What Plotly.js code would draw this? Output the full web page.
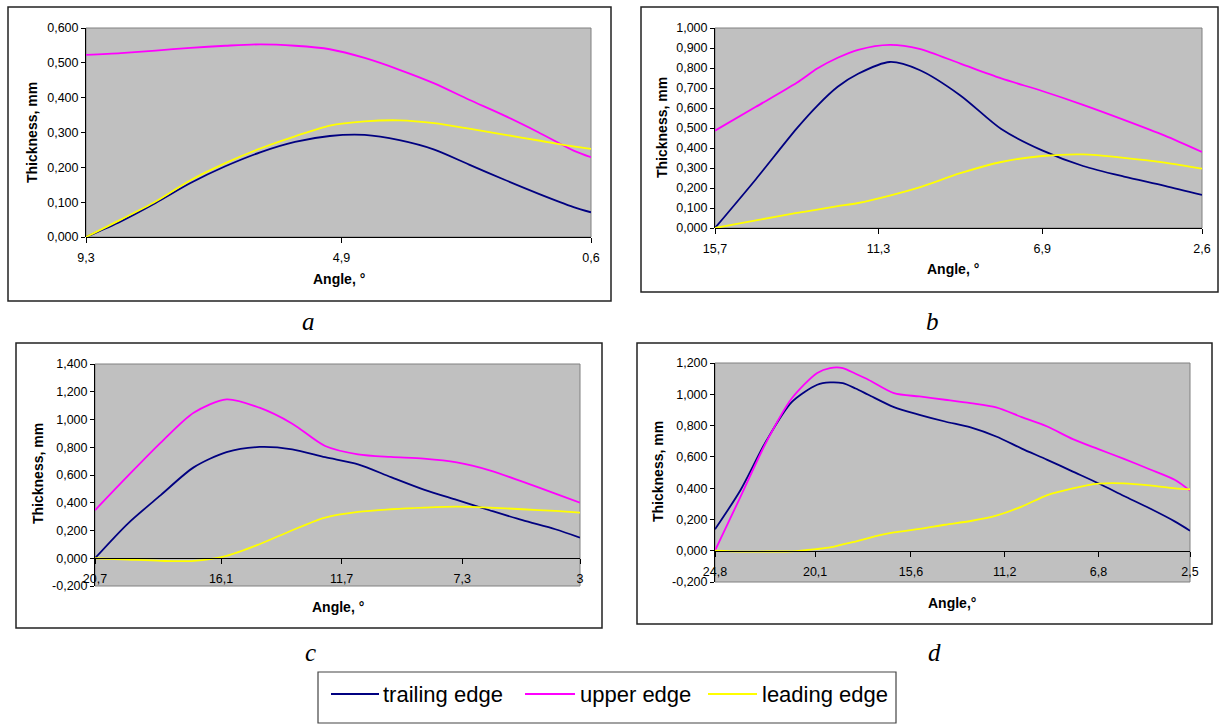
<!DOCTYPE html>
<html>
<head>
<meta charset="utf-8">
<script src="https://cdn.plot.ly/plotly-3.0.1.min.js"></script>
<style>
  html, body { margin: 0; padding: 0; background: #ffffff; }
  #chart { width: 1225px; height: 724px; }
</style>
</head>
<body>
<div id="chart"></div>
<script>
// ---------------- DATA ----------------
const seriesNames  = ['trailing edge', 'upper edge', 'leading edge'];
const seriesColors = ['#000080', '#ff00ff', '#ffff00'];

// Panel a
const angleA    = [9.3, 8.7, 8.1, 7.5, 6.9, 6.3, 5.7, 5.1, 4.5, 3.9, 3.3, 2.7, 2.1, 1.5, 0.9, 0.6];
const trailingA = [0, 0.045, 0.098, 0.155, 0.203, 0.243, 0.273, 0.290, 0.293, 0.278, 0.251, 0.208, 0.165, 0.124, 0.086, 0.071];
const upperA    = [0.523, 0.528, 0.535, 0.543, 0.549, 0.553, 0.549, 0.539, 0.514, 0.480, 0.441, 0.394, 0.349, 0.300, 0.248, 0.229];
const leadingA  = [0, 0.050, 0.102, 0.163, 0.212, 0.254, 0.289, 0.320, 0.332, 0.335, 0.327, 0.311, 0.294, 0.277, 0.260, 0.253];
const xTicksA   = [9.3, 4.9, 0.6];
const yTicksA   = [0, 0.1, 0.2, 0.3, 0.4, 0.5, 0.6];

// Panel b
const angleB    = [15.7, 14.6, 13.5, 12.95, 12.4, 11.85, 11.0, 10.2, 9.1, 8.0, 6.9, 5.8, 4.7, 3.6, 2.6];
const trailingB = [0, 0.244, 0.498, 0.611, 0.706, 0.771, 0.830, 0.790, 0.663, 0.495, 0.388, 0.310, 0.257, 0.211, 0.165];
const upperB    = [0.487, 0.606, 0.726, 0.797, 0.851, 0.891, 0.916, 0.896, 0.822, 0.748, 0.685, 0.616, 0.541, 0.462, 0.380];
const leadingB  = [0, 0.038, 0.076, 0.092, 0.109, 0.125, 0.162, 0.203, 0.274, 0.330, 0.360, 0.368, 0.351, 0.327, 0.297];
const xTicksB   = [15.7, 11.3, 6.9, 2.6];
const yTicksB   = [0, 0.1, 0.2, 0.3, 0.4, 0.5, 0.6, 0.7, 0.8, 0.9, 1.0];

// Panel c
const angleC    = [20.7, 19.5, 18.3, 17.1, 15.9, 14.7, 13.5, 12.3, 11.1, 9.9, 8.7, 7.5, 6.3, 5.1, 3.9, 3.0];
const trailingC = [0, 0.250, 0.455, 0.655, 0.765, 0.802, 0.785, 0.728, 0.677, 0.585, 0.495, 0.420, 0.346, 0.274, 0.209, 0.149];
const upperC    = [0.346, 0.593, 0.833, 1.049, 1.145, 1.085, 0.970, 0.809, 0.749, 0.730, 0.718, 0.691, 0.634, 0.552, 0.466, 0.401];
const leadingC  = [0, -0.010, -0.019, -0.019, 0.017, 0.101, 0.202, 0.293, 0.334, 0.353, 0.365, 0.372, 0.365, 0.353, 0.341, 0.329];
const xTicksC   = [20.7, 16.1, 11.7, 7.3, 3];
const yTicksC   = [-0.2, 0, 0.2, 0.4, 0.6, 0.8, 1.0, 1.2, 1.4];

// Panel d
const angleD    = [24.8, 23.6, 22.4, 21.2, 20.0, 19.4, 18.8, 18.2, 17.6, 16.4, 15.2, 14.0, 12.8, 11.6, 10.4, 9.2, 8.0, 6.8, 5.6, 4.4, 3.2, 2.5];
const trailingD = [0.137, 0.388, 0.700, 0.950, 1.061, 1.076, 1.071, 1.037, 0.997, 0.918, 0.869, 0.826, 0.788, 0.730, 0.653, 0.581, 0.506, 0.431, 0.350, 0.271, 0.186, 0.128];
const upperD    = [0, 0.346, 0.692, 0.973, 1.136, 1.168, 1.168, 1.131, 1.093, 1.007, 0.986, 0.965, 0.943, 0.916, 0.854, 0.794, 0.713, 0.649, 0.587, 0.521, 0.452, 0.384];
const leadingD  = [0, -0.006, -0.005, -0.004, 0.011, 0.021, 0.041, 0.058, 0.081, 0.117, 0.139, 0.166, 0.190, 0.224, 0.282, 0.356, 0.399, 0.429, 0.431, 0.418, 0.399, 0.393];
const xTicksD   = [24.8, 20.1, 15.6, 11.2, 6.8, 2.5];
const yTicksD   = [-0.2, 0, 0.2, 0.4, 0.6, 0.8, 1.0, 1.2];

const panelLetters = ['a', 'b', 'c', 'd'];
const xTitles = ['Angle, °', 'Angle, °', 'Angle, °', 'Angle,°'];
const yTitle = 'Thickness, mm';

// ---------------- LAYOUT HELPERS ----------------
const W = 1225, H = 724;
const fx = p => p / W;
const fy = p => 1 - p / H;
const FONT = 'Liberation Sans, Arial, sans-serif';

const panels = [
  { angle: angleA, series: [trailingA, upperA, leadingA], xt: xTicksA, yt: yTicksA,
    plot: [86, 591, 28, 237], box: [8, 611, 7, 301], cap: [308, 322], xtitle: [339, 279], ytitle: [32, 133] },
  { angle: angleB, series: [trailingB, upperB, leadingB], xt: xTicksB, yt: yTicksB,
    plot: [715, 1202, 28, 228], box: [641, 1218, 7, 292], cap: [932, 322], xtitle: [953, 269], ytitle: [662, 128] },
  { angle: angleC, series: [trailingC, upperC, leadingC], xt: xTicksC, yt: yTicksC,
    plot: [95, 580, 364, 586], box: [16, 602, 343, 628], cap: [310, 652], xtitle: [338, 607], ytitle: [38, 474] },
  { angle: angleD, series: [trailingD, upperD, leadingD], xt: xTicksD, yt: yTicksD,
    plot: [715, 1190, 363, 582], box: [637, 1212, 343, 624], cap: [934, 652], xtitle: [952, 603], ytitle: [658, 472] }
];

const fmtY = v => v.toFixed(3).replace('.', ',');
const fmtX = v => String(v).replace('.', ',');

const traces = [];
const layout = {
  width: W, height: H,
  margin: { l: 0, r: 0, t: 0, b: 0 },
  paper_bgcolor: '#ffffff',
  plot_bgcolor: '#c0c0c0',
  showlegend: false,
  font: { family: FONT, size: 12, color: '#000000' },
  shapes: [],
  annotations: []
};

panels.forEach((p, i) => {
  const n = i === 0 ? '' : String(i + 1);
  const xa = 'x' + n, ya = 'y' + n;
  p.series.forEach((vals, s) => {
    traces.push({
      type: 'scatter', mode: 'lines',
      x: p.angle, y: vals,
      xaxis: xa, yaxis: ya,
      name: seriesNames[s],
      line: { color: seriesColors[s], width: 1.8, shape: 'spline', smoothing: 0.8 },
      hoverinfo: 'skip'
    });
  });
  const [l, r, t, b] = p.plot;
  const yDomain = [fy(b), fy(t)];
  const yMin = p.yt[0], yMax = p.yt[p.yt.length - 1];
  const zeroPos = yDomain[0] + (0 - yMin) / (yMax - yMin) * (yDomain[1] - yDomain[0]);
  layout['xaxis' + n] = {
    domain: [fx(l), fx(r)],
    range: [p.angle[0], p.angle[p.angle.length - 1]],
    tickvals: p.xt, ticktext: p.xt.map(fmtX),
    ticks: 'outside', ticklen: 5, tickcolor: '#000000', tickwidth: 1,
    showline: true, linecolor: '#000000', linewidth: 1,
    showgrid: false, zeroline: false,
    anchor: 'free', position: zeroPos,
    ticklabelstandoff: 4,
    tickfont: { family: FONT, size: 12.5, color: '#000000' },
    fixedrange: true
  };
  layout['yaxis' + n] = {
    domain: yDomain,
    range: [yMin, yMax],
    tickvals: p.yt, ticktext: p.yt.map(fmtY),
    ticks: 'outside', ticklen: 4, tickcolor: '#000000', tickwidth: 1,
    showline: true, linecolor: '#000000', linewidth: 1,
    showgrid: false, zeroline: false,
    anchor: xa,
    tickfont: { family: FONT, size: 12.5, color: '#000000' },
    fixedrange: true
  };
  // plot area border (gray)
  layout.shapes.push({
    type: 'rect', xref: xa + ' domain', yref: ya + ' domain',
    x0: 0, x1: 1, y0: 0, y1: 1,
    line: { color: '#808080', width: 1 }, layer: 'below'
  });
  // outer chart frame
  const [bl, br, bt, bb] = p.box;
  layout.shapes.push({
    type: 'rect', xref: 'paper', yref: 'paper',
    x0: fx(bl), x1: fx(br), y0: fy(bb), y1: fy(bt),
    line: { color: '#222222', width: 1.5 }, layer: 'below'
  });
  // axis titles
  layout.annotations.push({
    xref: 'paper', yref: 'paper', x: fx(p.xtitle[0]), y: fy(p.xtitle[1]),
    text: '<b>' + xTitles[i] + '</b>', showarrow: false,
    xanchor: 'center', yanchor: 'middle',
    font: { family: FONT, size: 14, color: '#000000' }
  });
  layout.annotations.push({
    xref: 'paper', yref: 'paper', x: fx(p.ytitle[0]), y: fy(p.ytitle[1]),
    text: '<b>' + yTitle + '</b>', showarrow: false, textangle: -90,
    xanchor: 'center', yanchor: 'middle',
    font: { family: FONT, size: 14, color: '#000000' }
  });
  // panel letter caption
  layout.annotations.push({
    xref: 'paper', yref: 'paper', x: fx(p.cap[0]), y: fy(p.cap[1]),
    text: '<i>' + panelLetters[i] + '</i>', showarrow: false,
    xanchor: 'center', yanchor: 'middle',
    font: { family: 'Liberation Serif, Times New Roman, serif', size: 25, color: '#000000' }
  });
});

// legend (drawn manually inside a framed box)
layout.shapes.push({
  type: 'rect', xref: 'paper', yref: 'paper',
  x0: fx(318), x1: fx(896), y0: fy(723), y1: fy(672),
  line: { color: '#444444', width: 1.2 }, layer: 'below'
});
const legendLineX = [[331, 379], [525, 575], [708, 757]];
const legendTextX = [381, 578, 760];
seriesNames.forEach((name, s) => {
  layout.shapes.push({
    type: 'line', xref: 'paper', yref: 'paper',
    x0: fx(legendLineX[s][0]), x1: fx(legendLineX[s][1]), y0: fy(694), y1: fy(694),
    line: { color: seriesColors[s], width: 2.2 }
  });
  layout.annotations.push({
    xref: 'paper', yref: 'paper', x: fx(legendTextX[s]), y: fy(694),
    text: name, showarrow: false, xanchor: 'left', yanchor: 'middle',
    font: { family: FONT, size: 22, color: '#000000' }
  });
});

Plotly.newPlot('chart', traces, layout, { staticPlot: true, displayModeBar: false });
</script>
</body>
</html>
